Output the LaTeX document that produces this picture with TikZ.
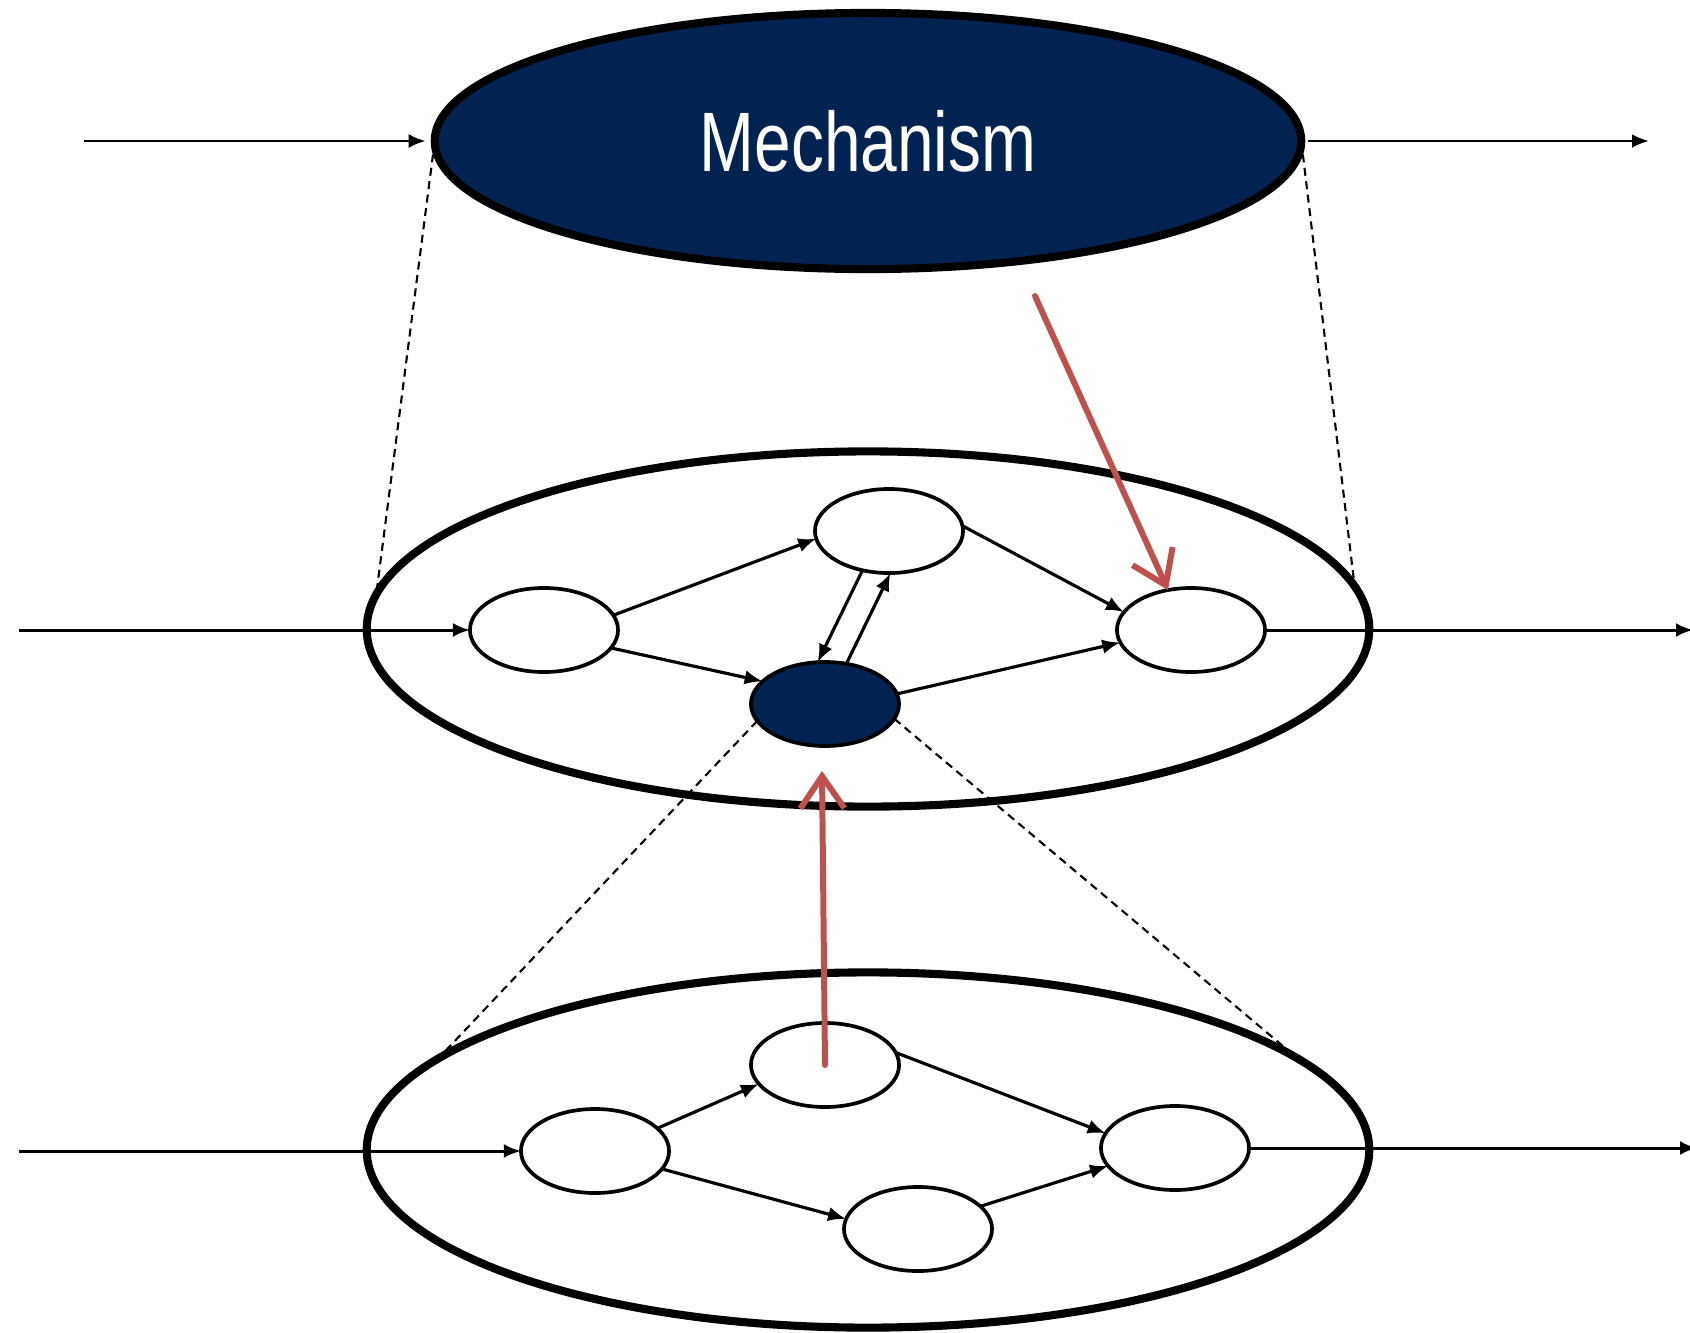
\documentclass[tikz,border=0pt]{standalone}
\usepackage{fontspec}
\setmainfont{Liberation Sans}
\usetikzlibrary{arrows.meta,shapes.geometric}
\definecolor{navy}{RGB}{1,35,82}
\definecolor{redarrow}{RGB}{192,80,77}
\begin{document}
\begin{tikzpicture}[x=0.01cm,y=-0.01cm,
  level/.style={ellipse,draw,line width=2.3pt,inner sep=0,outer sep=0,
    minimum width=10.02cm,minimum height=3.55cm},
  unit/.style={ellipse,draw,line width=1.05pt,fill=white,inner sep=0,outer sep=0,
    minimum width=1.48cm,minimum height=0.84cm},
  active/.style={unit,fill=navy},
  link/.style={line width=0.9pt,-{Latex[length=1.8mm,width=1.45mm]}},
  flow/.style={line width=0.85pt,-{Latex[length=1.7mm,width=1.4mm]}},
  zoomline/.style={line width=0.6pt,dash pattern=on 0.8mm off 0.55mm},
  focus/.style={draw=redarrow,line width=1.7pt,line cap=round,
    -{Straight Barb[length=3.2mm,width=4.4mm,line width=1.7pt]}}]
\useasboundingbox (0,0) rectangle (1690,1333);

% top level: the mechanism as a whole
\node[ellipse,draw,line width=2.3pt,fill=navy,inner sep=0,outer sep=0,
  minimum width=8.66cm,minimum height=2.56cm] (top) at (868,141)
  {\color{white}\fontsize{24pt}{28pt}\selectfont\scalebox{0.78}[1]{Mechanism}};
\coordinate (topin) at (84,141);
\coordinate (topout) at (1649,141);
\draw[flow] (topin) -- ([xshift=-0.09cm]top.west);
\draw[flow] ([xshift=0.07cm]top.east) -- (topout);

% middle level
\node[level] (mid) at (868,629) {};
\node[unit] (m1) at (544,630) {};
\node[unit] (m2) at (889,531) {};
\node[active] (m3) at (825,704) {};
\node[unit] (m4) at (1191,630) {};
\coordinate (midin) at (19,630);
\coordinate (midout) at (1693,630);

% bottom level
\node[level] (bot) at (868,1150) {};
\node[unit] (b1) at (595,1151) {};
\node[unit] (b2) at (825,1065) {};
\node[unit] (b3) at (918,1229) {};
\node[unit] (b4) at (1175,1148) {};
\coordinate (botin) at (19,1151);
\coordinate (botout) at (1697,1148);

% zoom guides
\draw[zoomline] (top.west) -- (mid.176);
\draw[zoomline] (top.east) -- (mid.5.5);
\draw[zoomline] (m3.194) -- (bot.168);
\draw[zoomline] (m3.348) -- (bot.12.3);

% middle level connections
\draw[flow] (midin) -- (m1.west);
\draw[flow] (m4.east) -- (midout);
\draw[link] (m1.12) -- (m2.186);
\draw[link] (m1.345) -- (m3.160);
\draw[link] (m2.4) -- (m4.165);
\draw[link] (m3.8) -- (m4.190);
\draw[link] (m2.236) -- (m3.100);
\draw[link] (m3.62) -- (m2.272);

% bottom level connections
\draw[flow] (botin) -- (b1.west);
\draw[flow] (b4.east) -- (botout);
\draw[link] (b1.20) -- (b2.196);
\draw[link] (b1.345) -- (b3.172);
\draw[link] (b2.10) -- (b4.168);
\draw[link] (b3.20) -- (b4.195);

% highlighted influence arrows
\coordinate (fromtop) at (1035,296);
\coordinate (tobelow) at (822,771);
\draw[focus] (fromtop) -- (m4.120);
\draw[focus] (b2.center) -- (tobelow);
\end{tikzpicture}
\end{document}
